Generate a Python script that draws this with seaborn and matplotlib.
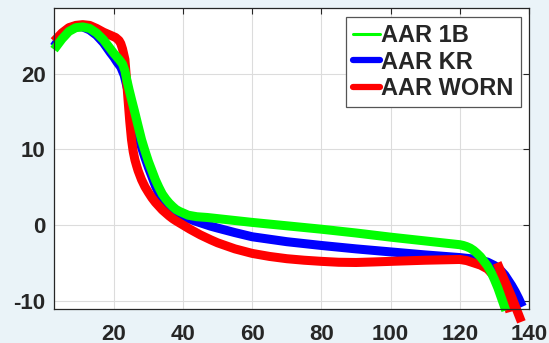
import numpy as np
import pandas as pd
import matplotlib
matplotlib.use('Agg')
import matplotlib.pyplot as plt
import seaborn as sns
from matplotlib.lines import Line2D

# values
x_1b = [2.7, 5, 7, 9, 11, 13, 15, 17, 19, 20, 21.5, 22.5, 23.2, 23.8, 24.4, 25.1, 26, 26.8, 28, 29, 30, 31, 32,
        33, 34, 35, 36, 37, 38, 39, 40, 41.5, 44, 47, 50, 60, 70, 80, 90, 100, 110, 120, 121, 122, 123, 124,
        125, 126, 127, 128, 129, 130, 131, 132, 133.3]
y_1b = [23.2, 24.6, 25.6, 26.1, 26.2, 26.0, 25.4, 24.5, 23.3, 22.7, 21.9, 21.3, 20.4, 19.1, 17.9, 16.6, 15.0,
        13.5, 11.3, 9.8, 8.4, 7.2, 6.0, 5.0, 4.1, 3.45, 2.9, 2.45, 2.05, 1.8, 1.6, 1.3, 1.1, 1.0, 0.85, 0.35,
        -0.1, -0.55, -1.05, -1.6, -2.1, -2.6, -2.7, -2.85, -3.05, -3.35, -3.75, -4.2, -4.8, -5.4, -6.2, -7.2,
        -8.3, -9.6, -11.3]

x_kr = [2.7, 5, 7, 9, 11, 13, 15, 17, 19, 20, 21, 22, 23, 24, 25, 26, 27, 28, 29, 30, 31, 32, 33, 34, 35, 36,
        37, 38, 40, 43, 45, 48, 50, 55, 60, 70, 80, 90, 100, 110, 120, 124, 126, 128, 130, 131, 132, 133, 134,
        135, 136, 137, 138.1]
y_kr = [23.6, 25.1, 26.0, 26.3, 26.2, 25.8, 25.1, 24.1, 22.8, 22.2, 21.5, 20.9, 19.8, 17.9, 15.7, 13.6, 11.9,
        10.3, 8.9, 7.6, 6.4, 5.2, 4.2, 3.3, 2.7, 2.25, 1.95, 1.65, 1.15, 0.6, 0.3, -0.15, -0.4, -1.0, -1.55,
        -2.2, -2.7, -3.15, -3.55, -3.95, -4.3, -4.5, -4.65, -4.9, -5.35, -5.65, -6.1, -6.6, -7.3, -8.0, -8.8,
        -9.7, -10.8]

x_worn = [2.7, 5, 7, 9, 11, 13, 15, 17, 19, 20.5, 21.5, 22, 22.5, 23.2, 23.6, 24.1, 24.6, 25.1, 25.6, 26.1,
          26.6, 27, 28, 29, 30, 31, 32, 33, 34, 35, 36, 37, 38, 40, 42, 45, 48, 50, 55, 60, 65, 70, 75, 80, 85,
          90, 95, 100, 110, 120, 122, 124, 126, 128, 130, 131.6, 132.5, 133.5, 134.5]
y_worn = [24.3, 25.4, 26.1, 26.4, 26.5, 26.4, 26.0, 25.5, 25.1, 24.8, 24.4, 24.0, 23.3, 21.9, 19.6, 16.6, 13.7,
          11.3, 9.7, 8.6, 7.8, 7.2, 6.0, 5.05, 4.3, 3.6, 3.0, 2.5, 2.0, 1.6, 1.2, 0.85, 0.55, 0.0, -0.55, -1.3,
          -1.95, -2.35, -3.15, -3.75, -4.15, -4.45, -4.65, -4.8, -4.92, -4.95, -4.88, -4.8, -4.65, -4.55, -4.7,
          -5.0, -5.3, -5.8, -6.8, -7.7, -8.8, -9.9, -11.5]
x_worn_tail = [130.8, 132.5, 135.0, 137.8]
y_worn_tail = [-5.0, -6.85, -9.5, -12.8]

labels = ['AAR 1B', 'AAR KR', 'AAR WORN']
colors = ['#00ff00', '#0000ff', '#ff0000']
xticks = [20, 40, 60, 80, 100, 120, 140]
yticks = [-10, 0, 10, 20]

sns.set_theme(style='whitegrid')
plt.rcParams['font.family'] = ['Liberation Sans', 'DejaVu Sans']
plt.rcParams['axes.unicode_minus'] = False

fig = plt.figure(figsize=(5.49, 3.43), dpi=100)
fig.patch.set_facecolor('#eaf3f8')
ax = fig.add_axes([54 / 549, 1 - 309 / 343, 475 / 549, 301 / 343])
ax.set_facecolor('white')

lw = 6.5
sns.lineplot(x=x_kr, y=y_kr, color=colors[1], lw=lw, sort=False, estimator=None, ax=ax)
sns.lineplot(x=x_worn, y=y_worn, color=colors[2], lw=lw, sort=False, estimator=None, ax=ax)
sns.lineplot(x=x_worn_tail, y=y_worn_tail, color=colors[2], lw=lw, sort=False, estimator=None, ax=ax)
sns.lineplot(x=x_1b, y=y_1b, color=colors[0], lw=lw, sort=False, estimator=None, ax=ax)
for line in ax.lines:
    line.set_clip_on(False)
    line.set_solid_capstyle('butt')
    line.set_solid_joinstyle('round')

ax.set_xlim(2.7, 140)
ax.set_ylim(-11.1, 28.7)
ax.set_xticks(xticks)
ax.set_yticks(yticks)
ax.set_xlabel('')
ax.set_ylabel('')
ax.grid(True, color='#dcdcdc', lw=0.8)
ax.tick_params(axis='both', direction='in', length=4, width=0.8, colors='#262626',
               labelsize=16, top=True, right=True)
ax.tick_params(axis='x', pad=11)
ax.tick_params(axis='y', pad=6)
for lab in ax.get_xticklabels() + ax.get_yticklabels():
    lab.set_fontweight('bold')
for sp in ax.spines.values():
    sp.set_visible(True)
    sp.set_color('#262626')
    sp.set_linewidth(0.9)

handles = [Line2D([], [], color=colors[0], lw=2.2),
           Line2D([], [], color=colors[1], lw=4.5),
           Line2D([], [], color=colors[2], lw=4.5)]
leg = ax.legend(handles, labels, loc='upper right', bbox_to_anchor=(0.983, 0.970), borderaxespad=0,
                fancybox=False, framealpha=1, edgecolor='#555555', handlelength=1.15, handletextpad=0.05,
                labelspacing=0.15, borderpad=0.3, prop={'weight': 'bold', 'size': 17})
leg.get_frame().set_linewidth(0.9)

fig.savefig('out.png', dpi=100, facecolor=fig.get_facecolor())
